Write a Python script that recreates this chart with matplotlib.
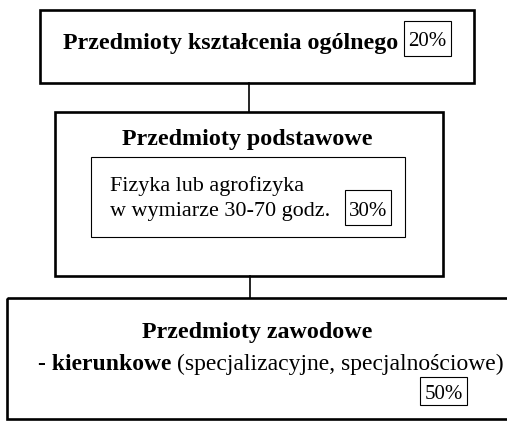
import matplotlib
matplotlib.use("Agg")
import matplotlib.pyplot as plt
from matplotlib.patches import Rectangle

plt.rcParams.update({"font.family": ["Liberation Serif", "DejaVu Serif"]})

# ---- diagram content ------------------------------------------------------
levels = ["Przedmioty kształcenia ogólnego", "Przedmioty podstawowe",
          "Przedmioty zawodowe"]
shares = [20, 30, 50]
basic_lines = ["Fizyka lub agrofizyka", "w wymiarze 30-70 godz."]
prof_bold = "- kierunkowe "
prof_rest = "(specjalizacyjne, specjalnościowe)"

W, H = 507, 421
fig = plt.figure(figsize=(W / 100, H / 100), dpi=100)
ax = fig.add_axes([0, 0, 1, 1])
ax.set_xlim(0, W); ax.set_ylim(H, 0); ax.axis("off")

def box(x0, y0, x1, y1, lw):
    ax.add_patch(Rectangle((x0, y0), x1 - x0, y1 - y0, fill=False,
                           ec="black", lw=lw, clip_on=True))

def pct(x0, y0, x1, y1, v, fs=15):
    box(x0, y0, x1, y1, 0.8)
    ax.text((x0 + x1) / 2, (y0 + y1) / 2 + 1, f"{v}%", ha="center",
            va="center_baseline", fontsize=fs)

# ---- level 1 ----
box(40, 10, 474, 83, 1.9)
ax.text(63, 41, levels[0], fontsize=17.3, fontweight="bold",
        va="center_baseline")
pct(404, 21, 451, 56, shares[0])
ax.plot([249, 249], [83, 112], color="black", lw=1.2)

# ---- level 2 ----
box(55, 112, 443, 276, 1.9)
ax.text(247, 137, levels[1], fontsize=17.3, fontweight="bold",
        ha="center", va="center_baseline")
box(91, 157, 405, 237, 0.8)
ax.text(110, 184, basic_lines[0], fontsize=15.9, va="center_baseline")
ax.text(110, 209, basic_lines[1], fontsize=15.9, va="center_baseline")
pct(345, 190, 391, 225, shares[1])
ax.plot([250, 250], [276, 298], color="black", lw=1.2)

# ---- level 3 ----
box(7, 298, 530, 419, 1.9)
ax.text(257, 330, levels[2], fontsize=17.3, fontweight="bold",
        ha="center", va="center_baseline")
r = fig.canvas.get_renderer()
t1 = ax.text(38, 362, prof_bold, fontsize=17, fontweight="bold",
             va="center_baseline")
bb = t1.get_window_extent(r)
x_next = ax.transData.inverted().transform((bb.x1, bb.y0))[0]
ax.text(x_next, 362, prof_rest, fontsize=17, va="center_baseline")
pct(420, 377, 467, 405, shares[2])

fig.savefig("out.png", dpi=100)
